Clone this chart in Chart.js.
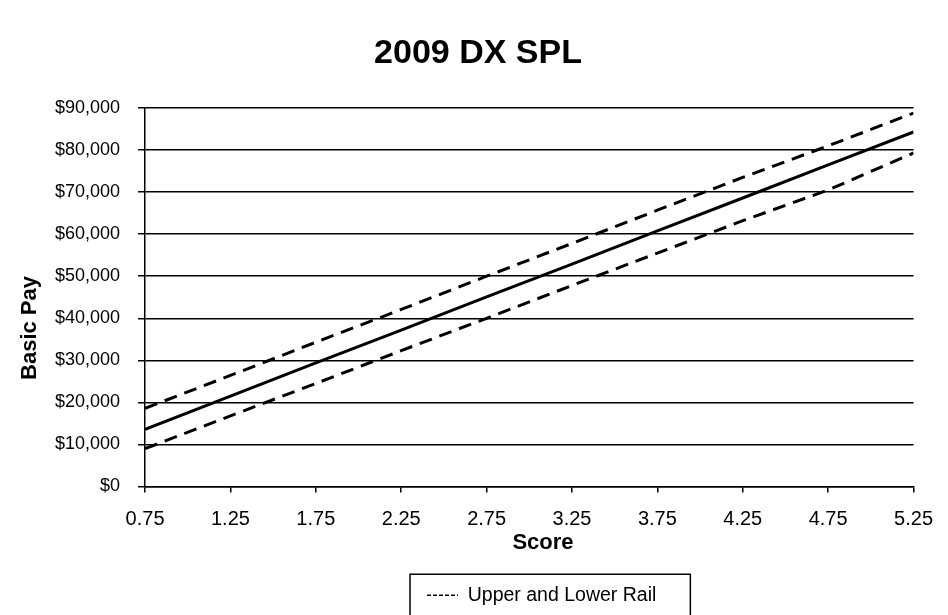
<!DOCTYPE html>
<html>
<head>
<meta charset="utf-8">
<script src="https://cdn.jsdelivr.net/npm/chart.js@4.4.1/dist/chart.umd.min.js"></script>
<style>
  html, body { margin: 0; padding: 0; background: #ffffff; }
  #wrap { width: 948px; height: 615px; position: relative; }
</style>
</head>
<body>
<div id="wrap"><canvas id="c"></canvas></div>
<script>
// ---- data ----
const scores     = [0.75, 1.25, 1.75, 2.25, 2.75, 3.25, 3.75, 4.25, 4.75, 5.25];
const basicPay   = [13600, 21500, 29400, 37200, 45100, 52900, 60800, 68600, 76500, 84300];
const upperRail  = [18600, 26400, 34300, 42100, 50000, 57800, 65700, 73500, 81000, 88800];
const lowerRail  = [9000, 16800, 24500, 32300, 40000, 47800, 55500, 63200, 70500, 79300];
const xTickValues = [0.75, 1.25, 1.75, 2.25, 2.75, 3.25, 3.75, 4.25, 4.75, 5.25];
const yMin = 0, yMax = 90000, yStep = 10000;
const titleText = '2009 DX SPL';
const xTitle = 'Score';
const yTitle = 'Basic Pay';
const legendText = 'Upper and Lower Rail';

const toPoints = (ys) => scores.map((s, i) => ({ x: s, y: ys[i] }));

const FONT = "'Liberation Sans', Arial, sans-serif";

// draws axis titles and the legend frame, and nudges the legend position
const extras = {
  id: 'extras',
  afterLayout(chart) {
    const lg = chart.legend;
    if (!lg || !lg.lineWidths) return;
    const cursorX = (lg.left + lg.right - lg.lineWidths[0] + lg.options.labels.padding) / 2;
    const shift = 427 - cursorX;
    lg.left += shift;
    lg.right += shift;
  },
  afterDraw(chart) {
    const ctx = chart.ctx;
    ctx.save();
    ctx.fillStyle = '#000';
    // y axis title
    ctx.font = 'bold 22px ' + FONT;
    ctx.textAlign = 'center';
    ctx.textBaseline = 'alphabetic';
    ctx.translate(36, 328);
    ctx.rotate(-Math.PI / 2);
    ctx.fillText(yTitle, 0, 0);
    ctx.setTransform(1, 0, 0, 1, 0, 0);
    // x axis title
    ctx.font = 'bold 22px ' + FONT;
    ctx.textAlign = 'center';
    ctx.textBaseline = 'middle';
    ctx.fillText(xTitle, 543, 543);
    // legend frame
    const lg = chart.legend;
    if (lg && lg.legendHitBoxes && lg.legendHitBoxes.length) {
      const hb = lg.legendHitBoxes[0];
      const cy = hb.top + hb.height / 2;
      const left = hb.left - 17;
      const right = hb.left + hb.width + 34;
      ctx.strokeStyle = '#000';
      ctx.lineWidth = 1.5;
      ctx.strokeRect(left, cy - 21, right - left, 44);
    }
    ctx.restore();
  }
};

new Chart(document.getElementById('c'), {
  type: 'line',
  data: {
    datasets: [
      {
        label: 'Basic Pay',
        data: toPoints(basicPay),
        borderColor: '#000',
        borderWidth: 3,
        pointRadius: 0,
        tension: 0,
        fill: false
      },
      {
        label: 'Upper Rail',
        data: toPoints(upperRail),
        borderColor: '#000',
        borderWidth: 3,
        borderDash: [13, 8],
        pointRadius: 0,
        tension: 0,
        fill: false
      },
      {
        label: 'Lower Rail',
        data: toPoints(lowerRail),
        borderColor: '#000',
        borderWidth: 3,
        borderDash: [13, 8],
        pointRadius: 0,
        tension: 0,
        fill: false
      }
    ]
  },
  options: {
    responsive: true,
    maintainAspectRatio: false,
    animation: false,
    devicePixelRatio: 1,
    layout: { padding: { left: 37, right: 29, top: 0, bottom: 0 } },
    plugins: {
      title: {
        display: true,
        text: titleText,
        color: '#000',
        font: { family: FONT, size: 34, weight: 'bold', lineHeight: 1 },
        padding: { top: 37, bottom: 37 }
      },
      legend: {
        display: true,
        position: 'bottom',
        onClick: null,
        labels: {
          color: '#000',
          font: { family: FONT, size: 19.5 },
          padding: 39,
          usePointStyle: true,
          pointStyleWidth: 31,
          boxWidth: 31,
          generateLabels() {
            return [{
              text: legendText,
              pointStyle: 'line',
              strokeStyle: '#000',
              fillStyle: 'rgba(0,0,0,0)',
              lineWidth: 1.5,
              lineDash: [4, 2],
              hidden: false,
              datasetIndex: 1,
              fontColor: '#000'
            }];
          }
        }
      },
      tooltip: { enabled: false }
    },
    scales: {
      x: {
        type: 'linear',
        min: scores[0],
        max: scores[scores.length - 1],
        afterBuildTicks(scale) {
          scale.ticks = xTickValues.map(v => ({ value: v }));
        },
        ticks: {
          color: '#000',
          font: { family: FONT, size: 20 },
          padding: 15,
          maxRotation: 0,
          autoSkip: false,
          callback: (v) => Number(v).toFixed(2)
        },
        grid: {
          drawOnChartArea: false,
          drawTicks: true,
          tickLength: 6,
          color: '#000',
          lineWidth: 1.5
        },
        border: { display: true, color: '#000', width: 1.5 },
        title: { display: false }
      },
      y: {
        type: 'linear',
        min: yMin,
        max: yMax,
        ticks: {
          stepSize: yStep,
          color: '#000',
          font: { family: FONT, size: 18 },
          padding: 18,
          callback: (v) => '$' + Number(v).toLocaleString('en-US')
        },
        grid: {
          color: '#000',
          lineWidth: 1.5,
          drawTicks: true,
          tickLength: 7
        },
        border: { display: true, color: '#000', width: 1.5 },
        title: { display: false }
      }
    }
  },
  plugins: [extras]
});
</script>
</body>
</html>
